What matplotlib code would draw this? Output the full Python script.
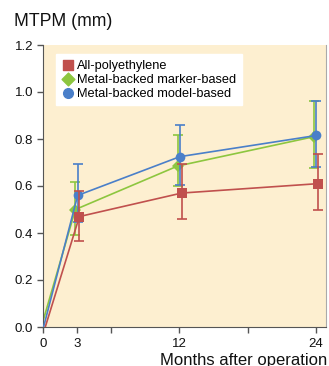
import matplotlib
matplotlib.use("Agg")
import matplotlib.pyplot as plt

plt.rcParams['font.family'] = ['Liberation Sans', 'DejaVu Sans']

# data
months = [3, 12, 24]
series_names = ["All-polyethylene", "Metal-backed marker-based", "Metal-backed model-based"]
poly_mean = [0.47, 0.57, 0.61]
poly_low = [0.366, 0.458, 0.498]
poly_high = [0.578, 0.692, 0.736]
marker_mean = [0.50, 0.685, 0.81]
marker_low = [0.39, 0.60, 0.677]
marker_high = [0.615, 0.817, 0.96]
model_mean = [0.56, 0.725, 0.815]
model_low = [0.448, 0.604, 0.68]
model_high = [0.692, 0.86, 0.963]
x_ticks = [0, 3, 6, 12, 18, 24]
x_ticklabels = ["0", "3", "", "12", "", "24"]
y_ticks = [0.0, 0.2, 0.4, 0.6, 0.8, 1.0, 1.2]

fig = plt.figure(figsize=(3.29, 3.66), dpi=100)
ax = fig.add_axes([43 / 329, 1 - 327 / 366, 283 / 329, 282 / 366])
ax.set_facecolor('#fdefd0')

styles = [
    (poly_mean, poly_low, poly_high, '#c0504d', 's', 6.7, 0.2, 4),
    (marker_mean, marker_low, marker_high, '#8dc63f', 'D', 6.5, -0.15, 2),
    (model_mean, model_low, model_high, '#4a7fc9', 'o', 7, 0.05, 3),
]

handles = []
for name, (mean, low, high, color, mk, ms, dx, z) in zip(series_names, styles):
    xs = [0 + dx] + [m + dx for m in months]
    ys = [0] + mean
    yerr = [[m - l for m, l in zip(mean, low)], [h - m for m, h in zip(mean, high)]]
    ax.errorbar([m + dx for m in months], mean, yerr=yerr, fmt='none', ecolor=color,
                elinewidth=1.2, capsize=3.5, capthick=1.2, zorder=z)
    ax.plot(xs, ys, color=color, lw=1.2, marker=mk, markersize=ms,
            markevery=[1, 2, 3], markeredgewidth=0, zorder=z + 0.5)
    handles.append(ax.scatter([], [], marker=mk, s=ms ** 2, color=color, label=name))

ax.set_xlim(0, 24.9)
ax.set_ylim(0, 1.2)
ax.set_xticks(x_ticks)
ax.set_xticklabels(x_ticklabels)
ax.set_yticks(y_ticks)
ax.set_yticklabels([f"{v:.1f}" for v in y_ticks])
ax.tick_params(axis='both', direction='out', length=4, width=1, color='#555555',
               labelsize=9.5, labelcolor='#111111')
ax.tick_params(axis='y', pad=3)
ax.tick_params(axis='x', pad=4)

ax.spines['top'].set_visible(False)
ax.spines['right'].set_color('#aaaaaa')
ax.spines['left'].set_color('#555555')
ax.spines['bottom'].set_color('#555555')

fig.text(14 / 329, 1 - 22 / 366, "MTPM (mm)", fontsize=12.7, va='center', ha='left', color='#111111')
fig.text(327 / 329, 1 - 364.5 / 366, "Months after operation", fontsize=12,
         va='baseline', ha='right', color='#111111')

leg = ax.legend(handles=handles, loc='upper left', bbox_to_anchor=(0.046, 0.968),
                borderaxespad=0, fontsize=9.2, frameon=True, fancybox=False,
                handletextpad=0.2, handlelength=1.0, labelspacing=0.15,
                borderpad=0.45, scatterpoints=1)
leg.get_frame().set_facecolor('white')
leg.get_frame().set_edgecolor('white')
leg.get_frame().set_alpha(1)

fig.savefig("out.png", dpi=100)
